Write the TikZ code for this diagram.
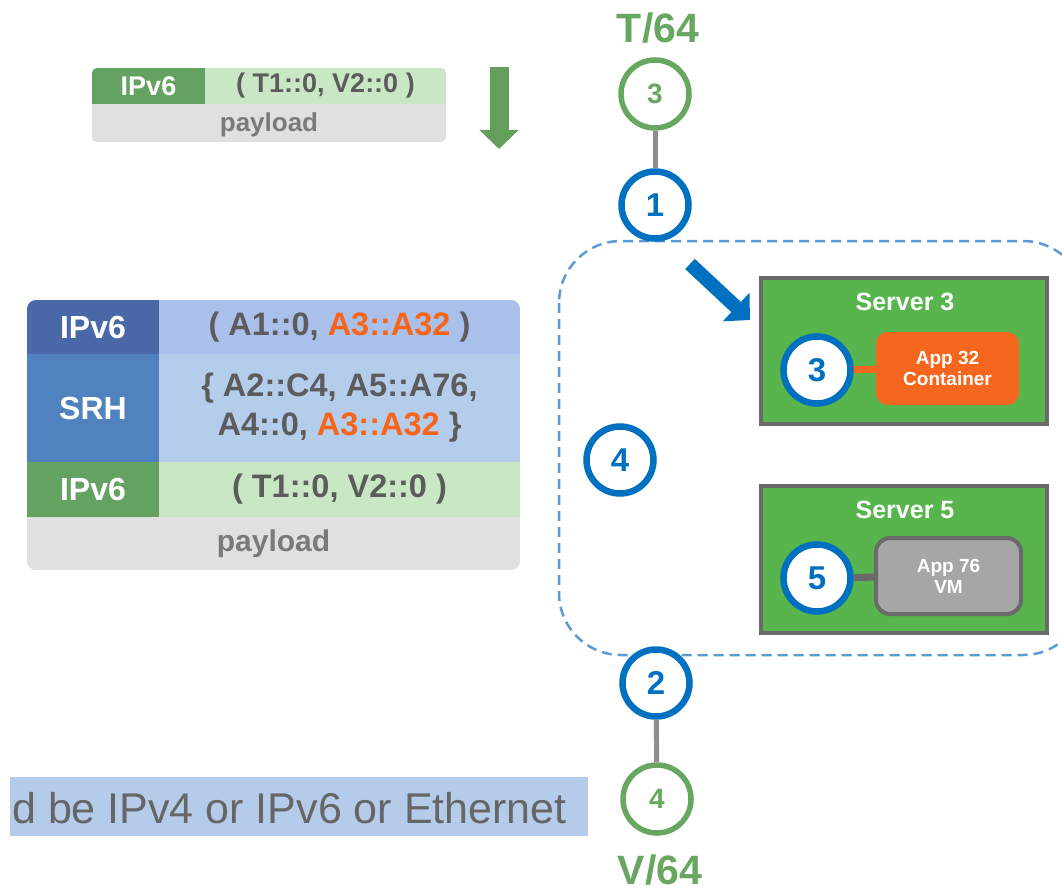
\documentclass[tikz,border=0pt]{standalone}
\usepackage{fontspec}
\setmainfont{Liberation Sans}
\usetikzlibrary{arrows.meta}

\definecolor{segblue}{HTML}{0070C0}
\definecolor{dashblue}{HTML}{5B9BD5}
\definecolor{pfxgreen}{HTML}{68A75F}
\definecolor{srvgreen}{HTML}{58B54D}
\definecolor{srvedge}{HTML}{6A6A6A}
\definecolor{appor}{HTML}{F7661E}
\definecolor{vmgray}{HTML}{A6A6A6}
\definecolor{linkgray}{HTML}{8E8E8E}
\definecolor{hdrblue}{HTML}{4A67A8}
\definecolor{hdrbluel}{HTML}{A9C1EA}
\definecolor{srhblue}{HTML}{4F82BE}
\definecolor{srhbluel}{HTML}{B4CDEB}
\definecolor{hdrgreen}{HTML}{64A262}
\definecolor{hdrgreenl}{HTML}{C9E7C5}
\definecolor{plgray}{HTML}{E0E0E0}
\definecolor{txtgray}{HTML}{5C5C5C}
\definecolor{pltxt}{HTML}{7A7A7A}
\definecolor{addror}{HTML}{FA6419}
\definecolor{notebar}{HTML}{B4CCEA}
\definecolor{notetxt}{HTML}{666666}

\newcommand{\fsz}[2]{\fontsize{#1}{#2}\selectfont}

\tikzset{
  cell/.style={inner sep=0pt, outer sep=0pt, anchor=north west, align=center},
  tagA/.style={cell, text=white, font=\bfseries\fsz{32}{38}},
  addrA/.style={cell, text=txtgray, font=\bfseries\fsz{32.5}{39}},
  plA/.style={cell, text=pltxt, font=\bfseries\fsz{30}{36}},
  tagB/.style={cell, text=white, font=\bfseries\fsz{27}{30}},
  addrB/.style={cell, text=txtgray, font=\bfseries\fsz{27}{30}},
  plB/.style={cell, text=pltxt, font=\bfseries\fsz{26}{30}},
  segnode/.style={circle, draw=segblue, line width=6.5pt, fill=white,
    minimum size=67pt, inner sep=0pt, text=segblue, font=\bfseries\fsz{33}{36}},
  pfxnode/.style={circle, draw=pfxgreen, line width=5.5pt, fill=white,
    minimum size=68pt, inner sep=0pt, text=pfxgreen, font=\bfseries\fsz{28}{32}},
  pfxlabel/.style={text=pfxgreen, font=\bfseries\fsz{41}{46}, inner sep=0pt},
  server/.style={draw=srvedge, line width=4pt, fill=srvgreen},
  srvtitle/.style={text=white, font=\bfseries\fsz{25}{28}, inner sep=0pt},
  appbox/.style={rounded corners=12pt, text=white, align=center,
    font=\bfseries\fsz{19}{21}, inner sep=0pt},
  link/.style={draw=linkgray, line width=5pt},
}

\begin{document}
\begin{tikzpicture}[x=1pt, y=-1pt]
\clip (0,0) rectangle (1062,896);
\fill[white] (0,0) rectangle (1062,896);

% --- incoming packet ---
\begin{scope}
  \clip[rounded corners=5pt] (92,68) rectangle (446,142);
  \node[tagB, fill=hdrgreen, minimum width=113pt, minimum height=36pt] (inhdr) at (92,68) {IPv6};
  \node[addrB, fill=hdrgreenl, minimum width=241pt, minimum height=36pt] (inaddr) at (205,68) {( T1::0, V2::0 )};
  \fill[plgray] (92,104) rectangle (446,142);
  \node[text=pltxt, font=\bfseries\fsz{26}{30}, inner sep=0pt] (inpl) at (269,125) {payload};
\end{scope}

% downward arrow next to the incoming packet
\coordinate (dnA) at (499,67);
\coordinate (dnB) at (499,149);
\draw[pfxgreen!95!black, line width=19pt, -{Triangle[length=19pt, width=38pt]}] (dnA) -- (dnB);

% --- encapsulated packet ---
\begin{scope}
  \clip[rounded corners=9pt] (27,300) rectangle (520,570);
  \node[tagA, fill=hdrblue, minimum width=132pt, minimum height=54pt] (ohdr) at (27,300) {IPv6};
  \node[addrA, fill=hdrbluel, minimum width=361pt, minimum height=54pt] (oaddr) at (159,300)
    {( A1::0, {\color{addror}A3::A32} )};
  \node[tagA, fill=srhblue, minimum width=132pt, minimum height=108pt] (srh) at (27,354) {SRH};
  \node[addrA, fill=srhbluel, minimum width=361pt, minimum height=108pt] (srhl) at (159,354)
    {\{ A2::C4, A5::A76,\\ A4::0, {\color{addror}A3::A32} \}};
  \node[tagA, fill=hdrgreen, minimum width=132pt, minimum height=55pt] (ihdr) at (27,462) {IPv6};
  \node[addrA, fill=hdrgreenl, minimum width=361pt, minimum height=55pt] (iaddr) at (159,462)
    {( T1::0, V2::0 )};
  \node[plA, fill=plgray, minimum width=493pt, minimum height=53pt] (opl) at (27,517) {payload};
\end{scope}

% --- SR domain ---
\draw[dashblue, line width=2.5pt, dash pattern=on 10pt off 6pt, rounded corners=62pt]
  (559,241) rectangle (1085,655);

% servers
\draw[server] (761,278) rectangle (1047,424);
\node[srvtitle] (s3t) at (905,302) {Server 3};
\draw[server] (761,486) rectangle (1047,633);
\node[srvtitle] (s5t) at (905,510) {Server 5};

\node[appbox, fill=appor, minimum width=143pt, minimum height=73pt] (app32) at (947.5,368.5)
  {App 32\\Container};
\node[appbox, fill=vmgray, draw=srvedge, line width=4pt, rounded corners=14pt,
  minimum width=145pt, minimum height=76pt] (app76) at (948.5,576) {App 76\\VM};

\node[segnode] (s3) at (817,370) {3};
\node[segnode] (s5) at (817,578) {5};
\draw[appor, line width=7pt] (s3) -- (app32);
\draw[srvedge, line width=7pt] (s5) -- (app76);

% edge and inner nodes
\node[pfxnode] (t3) at (655,94) {3};
\node[segnode] (n1) at (655,205) {1};
\node[segnode] (n4) at (620,460) {4};
\node[segnode] (n2) at (656,683) {2};
\node[pfxnode] (v4) at (657,799) {4};
\draw[link] (t3) -- (n1);
\draw[link] (n2) -- (v4);

\node[pfxlabel] (tlab) at (658,28) {T/64};
\node[pfxlabel] (vlab) at (660,870) {V/64};

% steering arrow into server 3
\coordinate (stA) at (690,264);
\coordinate (stB) at (750,320);
\draw[segblue, line width=14pt, -{Triangle[length=19pt, width=38pt]}] (stA) -- (stB);

% --- note bar ---
\fill[notebar] (10,777) rectangle (588,836);
\node[anchor=base west, inner sep=0pt, text=notetxt, font=\fsz{43}{48}] (note) at (12,823)
  {d be IPv4 or IPv6 or Ethernet};

\end{tikzpicture}
\end{document}
